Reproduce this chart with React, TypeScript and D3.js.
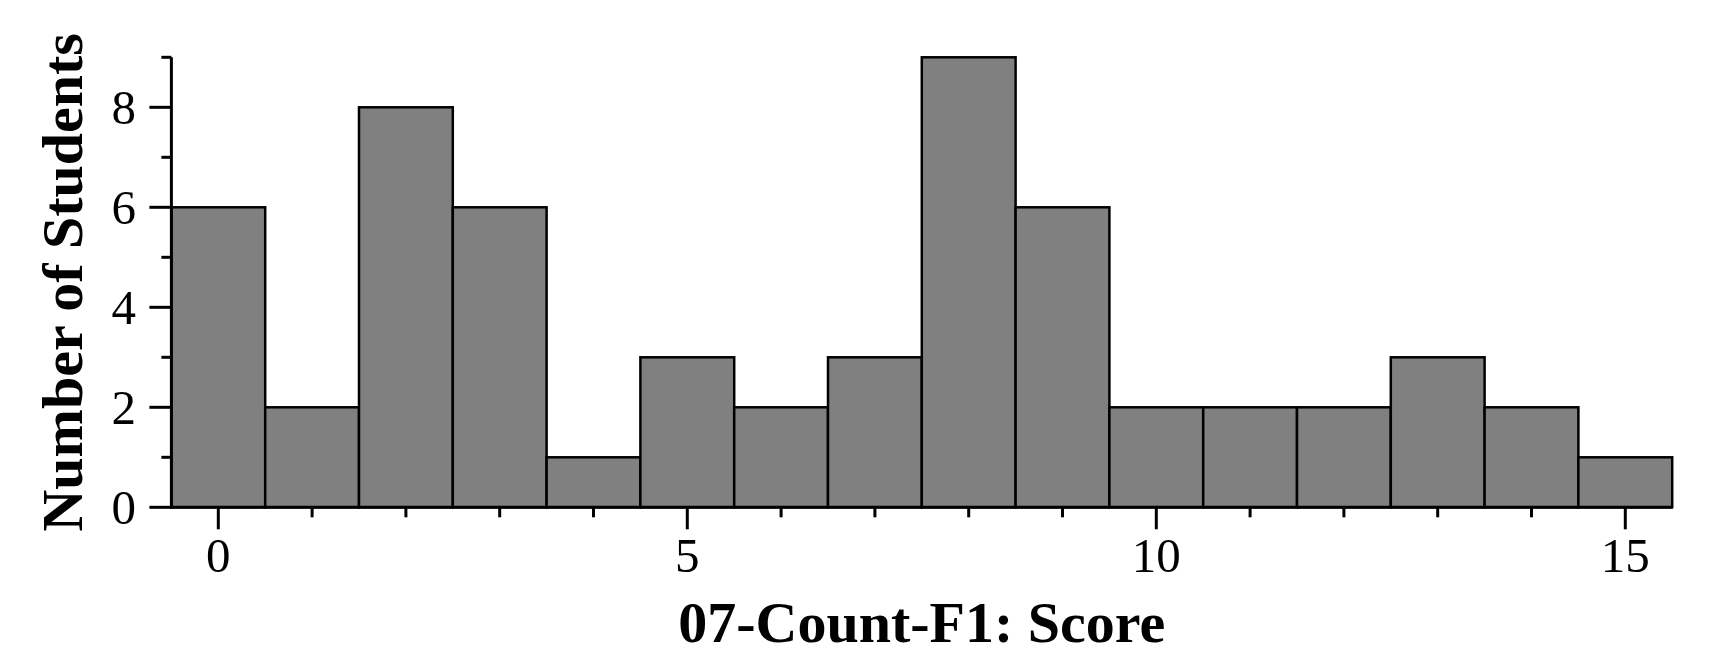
import React from "react";
import * as d3 from "d3";

const scores = [0, 1, 2, 3, 4, 5, 6, 7, 8, 9, 10, 11, 12, 13, 14, 15];
const counts = [6, 2, 8, 6, 1, 3, 2, 3, 9, 6, 2, 2, 2, 3, 2, 1];
const xMajorTicks = [0, 5, 10, 15];
const yMajorTicks = [0, 2, 4, 6, 8];
const xTitle = "07-Count-F1: Score";
const yTitle = "Number of Students";

const W = 1720;
const H = 670;
const left = 171.4;
const right = 1672.2;
const top = 57.3;
const bottom = 507.3;
const font = "'Liberation Serif', 'Times New Roman', serif";

export default function App() {
  const x = d3.scaleLinear().domain([-0.5, 15.5]).range([left, right]);
  const y = d3.scaleLinear().domain([0, 9]).range([bottom, top]);
  const yAll = d3.range(0, 10);
  const xAll = d3.range(0, 16);

  return (
    <svg
      width={W}
      height={H}
      style={{ position: "absolute", left: 0, top: 0, background: "#fff" }}
    >
      <rect x={0} y={0} width={W} height={H} fill="#fff" />
      {scores.map((s, i) => (
        <rect
          key={s}
          x={x(s - 0.5)}
          y={y(counts[i])}
          width={x(s + 0.5) - x(s - 0.5)}
          height={y(0) - y(counts[i])}
          fill="#808080"
          stroke="#000"
          strokeWidth={2.5}
        />
      ))}
      {/* y axis */}
      <line x1={left} x2={left} y1={top} y2={bottom + 1.5} stroke="#000" strokeWidth={3} />
      {yAll.map((v) => {
        const major = yMajorTicks.includes(v);
        return (
          <line
            key={"yt" + v}
            x1={left}
            x2={left - (major ? 22 : 10)}
            y1={y(v)}
            y2={y(v)}
            stroke="#000"
            strokeWidth={3}
          />
        );
      })}
      {yMajorTicks.map((v) => (
        <text
          key={"yl" + v}
          x={136}
          y={y(v)}
          dy="0.34em"
          textAnchor="end"
          fontFamily={font}
          fontSize={49}
        >
          {v}
        </text>
      ))}
      {/* x axis */}
      <line x1={left - 1.5} x2={right} y1={bottom} y2={bottom} stroke="#000" strokeWidth={3} />
      {xAll.map((v) => {
        const major = xMajorTicks.includes(v);
        return (
          <line
            key={"xt" + v}
            x1={x(v)}
            x2={x(v)}
            y1={bottom}
            y2={bottom + (major ? 22 : 10)}
            stroke="#000"
            strokeWidth={3}
          />
        );
      })}
      {xMajorTicks.map((v) => (
        <text
          key={"xl" + v}
          x={x(v)}
          y={571.5}
          textAnchor="middle"
          fontFamily={font}
          fontSize={49}
        >
          {v}
        </text>
      ))}
      <text
        x={(left + right) / 2}
        y={641.5}
        textAnchor="middle"
        fontFamily={font}
        fontSize={58}
        fontWeight="bold"
      >
        {xTitle}
      </text>
      <text
        transform={`translate(82, ${(top + bottom) / 2}) rotate(-90)`}
        textAnchor="middle"
        fontFamily={font}
        fontSize={58}
        fontWeight="bold"
      >
        {yTitle}
      </text>
    </svg>
  );
}
